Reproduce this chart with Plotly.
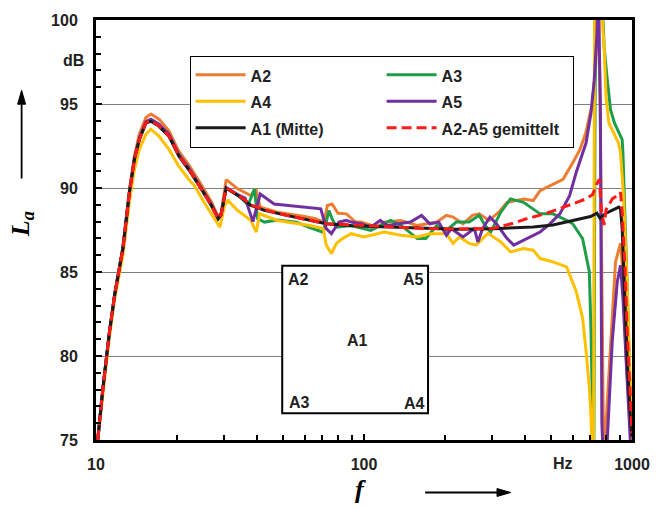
import plotly.graph_objects as go

# ---------------- data ----------------
f_a1 = [10.15, 10.6, 11.2, 11.74, 12.6, 13.33, 13.91, 14.51, 15.36, 16.03, 17.19, 18.71, 20.36, 22.16, 24.7, 26.9,
        28.57, 29.3, 30.6, 33.8, 37.8, 42.5, 50.4, 62.8, 72.3, 90, 120, 160, 220, 305, 428, 507, 601, 700, 740, 760,
        800, 850, 893, 906, 919, 942, 965, 990, 1000]
L_a1 = [75, 78, 81.3, 83.65, 86.4, 89.74, 91.7, 92.88, 93.87, 93.97, 93.67, 93.08, 91.9, 91.1, 89.94, 88.97,
        88.17, 88.4, 89.98, 89.56, 88.97, 88.67, 88.4, 88.09, 87.87, 87.75, 87.7, 87.62, 87.55, 87.58, 87.68, 87.8,
        88.05, 88.3, 88.5, 88.2, 88.5, 88.7, 88.86, 88.76, 87.6, 83.0, 79.0, 76.0, 75.2]

f_a2 = [10.15, 10.6, 11.2, 11.74, 12.6, 13.33, 13.91, 14.51, 15.36, 16.03, 17.19, 18.71, 20.36, 22.16, 24.7, 26.9,
        28.57, 29.3, 30.6, 33.8, 37.8, 39.5, 41, 47.5, 60, 66, 71, 73, 76, 80, 86, 93, 97.5, 112, 119, 137, 158, 187,
        203, 215, 234, 254, 269, 293, 320, 342, 394, 428, 454, 507, 553, 601, 640, 672, 712, 733, 740, 748, 760, 775,
        785, 800, 832, 868, 906, 925, 950, 975, 1000]
L_a2 = [75, 78, 81.3, 83.7, 86.5, 89.9, 91.9, 93.2, 94.2, 94.4, 94.1, 93.4, 92.2, 91.4, 90.2, 89.2,
        88.3, 88.5, 90.5, 89.95, 89.55, 89.95, 88.86, 88.56, 88.3, 88.17, 87.97, 88.96, 89.05, 88.5, 88.46, 87.97,
        87.97, 87.67, 87.97, 88.07, 87.77, 87.97, 88.37, 88.27, 87.87, 88.37, 88.46, 88.07, 88.6, 89.15, 89.35,
        89.25, 89.84, 90.23, 90.52, 91.5, 92.3, 93.28, 95.05, 97.4, 99.8, 103, 95, 82, 73, 76, 80.9, 85.6, 86.7,
        85, 80, 77, 75]

f_a3 = [10.15, 10.6, 11.2, 11.74, 12.6, 13.33, 13.91, 14.51, 15.36, 16.03, 17.19, 18.71, 20.36, 22.16, 24.7, 26.9,
        28.57, 29.3, 30.6, 33.8, 37, 39, 40.1, 42.5, 47.5, 56, 62, 66.6, 70, 72.3, 74, 76, 79, 89.6, 106, 125.6, 137,
        158, 170, 187, 203, 221, 247, 269, 283, 297, 324, 352, 394, 454, 507, 570, 601, 654, 693, 703, 712, 720, 728,
        735, 770, 787, 809, 832, 860, 893, 919, 925, 940, 960, 980, 1000]
L_a3 = [75, 78, 81.3, 83.65, 86.4, 89.74, 91.7, 92.9, 93.9, 94.0, 93.7, 93.1, 92.0, 91.2, 90.0, 89.0,
        88.2, 88.45, 90.0, 89.6, 89.0, 89.94, 88.17, 87.97, 88.1, 87.97, 87.67, 87.48, 87.38, 87.97, 88.66, 88.17,
        87.67, 87.77, 87.48, 88.07, 87.8, 86.99, 87.0, 87.77, 87.48, 87.97, 87.97, 88.37, 87.77, 87.38, 88.56,
        89.35, 89.15, 88.46, 88.46, 88.07, 87.87, 86.99, 85.02, 81.5, 77.75, 73, 95, 102, 102, 98.4, 96.4, 94.65,
        93.87, 93.28, 92.88, 92.1, 89, 84, 79, 75]

f_a4 = [10.15, 10.6, 11.2, 11.74, 12.6, 13.33, 13.91, 14.51, 15.36, 16.03, 17.19, 18.71, 20.36, 22.16, 23.3, 25.3,
        27.6, 29.0, 30.2, 31.1, 33.8, 37.8, 39.6, 40.8, 47.5, 62.8, 70.5, 72.3, 75.6, 78.9, 83, 89.6, 100, 119, 137,
        158, 176, 203, 215, 227, 247, 262, 290, 324, 352, 394, 428, 454, 507, 570, 619, 654, 674, 693, 703, 712, 718,
        725, 760, 787, 800, 820, 856, 890, 906, 930, 960, 985, 1000]
L_a4 = [75, 77.8, 81.0, 83.4, 86.0, 89.2, 91.1, 92.3, 93.2, 93.5, 93.08, 92.3, 91.3, 90.52, 90.13, 89.15,
        88.17, 87.67, 88.96, 89.25, 88.66, 88.07, 87.38, 88.46, 88.07, 87.77, 87.58, 86.6, 86.1, 86.7, 86.99, 87.28,
        87.09, 87.38, 87.19, 87.09, 87.28, 87.28, 86.7, 87.09, 86.7, 86.6, 87.3, 86.79, 86.2, 86.4, 86.3, 85.8,
        85.6, 85.3, 83.85, 82.27, 80.3, 78.14, 76.4, 74, 72, 101, 102, 98.4, 95.44, 93.87, 93.28, 92.69, 92.1,
        89.5, 84, 78, 75]

f_a5 = [10.15, 10.6, 11.2, 11.74, 12.6, 13.33, 13.91, 14.51, 15.36, 16.03, 17.19, 18.71, 20.36, 22.16, 24.7, 26.9,
        28.57, 29.3, 30.6, 33.8, 36, 38.5, 41, 46.2, 52.2, 59, 69, 72.3, 75.6, 80.5, 86, 89.6, 97.5, 106, 115, 122,
        133, 149, 164, 176, 190, 203, 212, 234, 258, 266, 277, 295, 312, 342, 362, 405, 454, 494, 538, 585, 619, 674,
        703, 723, 740, 748, 762, 772, 785, 800, 815, 844, 881, 906, 925, 959, 985, 1000]
L_a5 = [75, 78, 81.3, 83.65, 86.4, 89.8, 91.75, 92.95, 93.95, 94.1, 93.8, 93.2, 92.0, 91.2, 90.0, 89.05,
        88.2, 88.45, 90.03, 89.6, 89.4, 88.0, 89.64, 89.05, 88.96, 88.86, 88.76, 87.58, 87.28, 87.97, 88.07, 87.97,
        87.87, 87.67, 88.07, 87.77, 87.87, 87.97, 88.37, 87.87, 87.97, 87.19, 87.58, 87.09, 87.58, 86.79, 87.58,
        88.27, 87.87, 86.99, 86.6, 86.99, 87.38, 87.87, 88.46, 89.54, 90.92, 92.69, 94.46, 96.42, 99.2, 102, 95,
        76, 73, 73.5, 76.4, 80.9, 84.4, 85.4, 83.45, 78.5, 75, 73]

f_avg = [10.15, 10.6, 11.2, 11.74, 12.6, 13.33, 13.91, 14.51, 15.36, 16.03, 17.19, 18.71, 20.36, 22.16, 24.7, 26.9,
         28.57, 29.3, 30.6, 33.8, 37.8, 42.5, 50.4, 62.8, 72.3, 90, 120, 160, 220, 305, 360, 404, 470, 538, 600, 672,
         712, 743, 755, 770, 787, 800, 844, 893, 906, 919, 930, 942, 960, 980, 1000]
L_avg = [75, 78, 81.3, 83.65, 86.4, 89.74, 91.7, 92.88, 93.9, 94.0, 93.7, 93.1, 91.95, 91.15, 89.95, 88.97,
         88.17, 88.4, 90.0, 89.6, 89.0, 88.7, 88.4, 88.1, 87.87, 87.8, 87.7, 87.6, 87.55, 87.6, 87.9, 88.17, 88.45,
         88.76, 89.05, 89.35, 89.6, 90.3, 90.52, 88.56, 87.8, 88.7, 89.35, 89.6, 89.74, 88.56, 87.0, 85.2, 81.5,
         78, 75.4]

x_tickvals = [10, 100, 1000]
x_ticktext = ["10", "100", "1000"]
x_minor = [20, 30, 40, 50, 60, 70, 80, 90, 200, 300, 400, 500, 600, 700, 800, 900]
y_tickvals = [75, 80, 85, 90, 95, 100]
y_ticktext = ["75", "80", "85", "90", "95", "100"]

# ---------------- figure ----------------
W, H = 662, 509
ML, MR, MT, MB = 96, 22, 16, 69
PW, PH = W - ML - MR, H - MT - MB


def px(x):
    return (x - ML) / PW


def py(y):
    return (H - MB - y) / PH


series = [
    ("A2", f_a2, L_a2, "#ED7D31", "solid"),
    ("A3", f_a3, L_a3, "#1E9E4A", "solid"),
    ("A4", f_a4, L_a4, "#FFC000", "solid"),
    ("A5", f_a5, L_a5, "#7030A0", "solid"),
    ("A1 (Mitte)", f_a1, L_a1, "#1A1A1A", "solid"),
    ("A2-A5 gemittelt", f_avg, L_avg, "#FF1A1A", "10px,5px"),
]

fig = go.Figure()
for name, f, L, col, dash in series:
    fig.add_trace(go.Scatter(
        x=f, y=L, mode="lines",
        name='<span style="font-size:16px">' + name + '</span>',
        line=dict(color=col, width=3, dash=dash),
    ))

FONT = "Liberation Sans, Arial, sans-serif"
SERIF = "Liberation Serif, Times New Roman, serif"

fig.update_layout(
    width=W, height=H,
    margin=dict(l=ML, r=MR, t=MT, b=MB),
    paper_bgcolor="white", plot_bgcolor="white",
    font=dict(family=FONT, color="black"),
    showlegend=True,
    legend=dict(
        orientation="h", x=px(191), y=py(52), xanchor="left", yanchor="top",
        itemwidth=50, entrywidth=126,
        bgcolor="white", bordercolor="black", borderwidth=1,
        font=dict(family=FONT, size=18, weight="bold", color="#222222"),
    ),
    xaxis=dict(
        type="log", range=[1, 3], tickvals=x_tickvals, ticktext=x_ticktext,
        ticks="inside", ticklen=6, tickwidth=1.5, tickcolor="black",
        tickfont=dict(family=FONT, size=16, weight="bold", color="#222222"),
        ticklabelstandoff=8,
        showgrid=False, zeroline=False,
        showline=True, linewidth=3, linecolor="black", mirror=True,
        minor=dict(tickvals=x_minor, ticks="inside", ticklen=5, tickwidth=1.5,
                   tickcolor="black", showgrid=False),
    ),
    yaxis=dict(
        range=[75, 100], tickvals=y_tickvals, ticktext=y_ticktext,
        ticks="inside", ticklen=6, tickwidth=1.5, tickcolor="black",
        tickfont=dict(family=FONT, size=16, weight="bold", color="#222222"),
        ticklabelstandoff=12,
        showgrid=True, gridcolor="#808080", gridwidth=1, zeroline=False,
        showline=True, linewidth=3, linecolor="black", mirror=True,
        minor=dict(dtick=1, ticks="inside", ticklen=5, tickwidth=1.5,
                   tickcolor="black", showgrid=False),
    ),
)

# inset: sensor positions
fig.add_shape(type="rect", xref="paper", yref="paper",
              x0=px(285), x1=px(433), y0=py(413), y1=py(264),
              line=dict(color="black", width=2), fillcolor="white", layer="above")
inset_labels = [("A2", 302, 278), ("A5", 418, 278), ("A1", 361, 340), ("A3", 303, 402), ("A4", 419, 403)]
for t, xx, yy in inset_labels:
    fig.add_annotation(text=t, xref="paper", yref="paper", x=px(xx), y=py(yy),
                       showarrow=False, xanchor="center", yanchor="middle",
                       font=dict(family=FONT, size=16, weight="bold", color="#222222"))

# unit labels
fig.add_annotation(text="dB", xref="paper", yref="paper", x=px(86), y=py(57),
                   showarrow=False, xanchor="right", yanchor="middle",
                   font=dict(family=FONT, size=16, weight="bold", color="#222222"))
fig.add_annotation(text="Hz", xref="paper", yref="paper", x=px(570), y=py(464),
                   showarrow=False, xanchor="center", yanchor="middle",
                   font=dict(family=FONT, size=16, weight="bold", color="#222222"))

# axis titles
fig.add_annotation(text="<b><i>L<sub>a</sub></i></b>", xref="paper", yref="paper",
                   x=px(21), y=py(222), showarrow=False, textangle=-90,
                   xanchor="center", yanchor="middle",
                   font=dict(family=SERIF, size=26, color="black"))
fig.add_annotation(text="<b><i>f</i></b>", xref="paper", yref="paper",
                   x=px(364), y=py(490), showarrow=False,
                   xanchor="center", yanchor="middle",
                   font=dict(family=SERIF, size=26, color="black"))

# arrows (drawn as shapes)
fig.add_shape(type="line", xref="paper", yref="paper",
              x0=px(20.5), x1=px(20.5), y0=py(176), y1=py(100),
              line=dict(color="black", width=1.8))
fig.add_shape(type="path", xref="paper", yref="paper",
              path=f"M {px(20.5)},{py(87)} L {px(16.5)},{py(101)} L {px(24.5)},{py(101)} Z",
              fillcolor="black", line=dict(color="black", width=1))
fig.add_shape(type="line", xref="paper", yref="paper",
              x0=px(430), x1=px(504), y0=py(493), y1=py(493),
              line=dict(color="black", width=1.8))
fig.add_shape(type="path", xref="paper", yref="paper",
              path=f"M {px(517)},{py(493)} L {px(503)},{py(489)} L {px(503)},{py(497)} Z",
              fillcolor="black", line=dict(color="black", width=1))

fig.write_html(
    "out.html",
    config={"displayModeBar": False},
    post_script="document.body.style.margin='0';document.body.style.padding='0';"
                "document.documentElement.style.overflow='hidden';",
)
